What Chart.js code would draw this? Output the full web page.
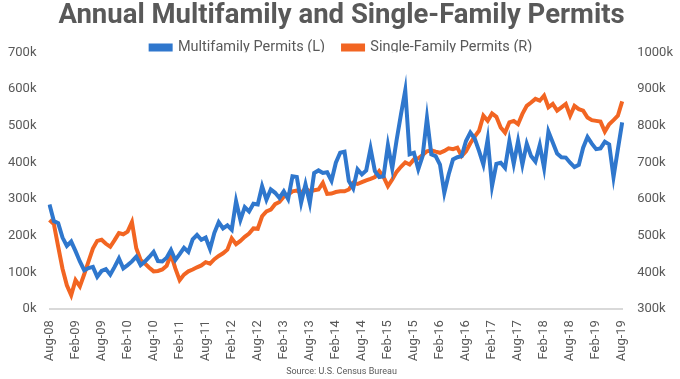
<!DOCTYPE html>
<html>
<head>
<meta charset="utf-8">
<script src="https://cdn.jsdelivr.net/npm/chart.js@4"></script>
<style>
  html, body { margin: 0; padding: 0; background: #fff; }
  #wrap { width: 680px; height: 379px; position: relative; }
</style>
</head>
<body>
<div id="wrap"><canvas id="permitsChart"></canvas></div>
<script>
// Meses abreviados y rango de fechas (Aug-08 .. Aug-19)
const monthNames = ['Jan', 'Feb', 'Mar', 'Apr', 'May', 'Jun', 'Jul', 'Aug', 'Sep', 'Oct', 'Nov', 'Dec'];
const startYear = 2008;
const startMonth = 7; // Aug

// Multifamily permits, annualized (thousands) - eje izquierdo
const multifamily = [
  285, 240, 234, 195, 172, 184, 158, 130, 106, 112, 115, 88,
  104, 109, 94, 115, 138, 111, 120, 130, 143, 120, 130, 142,
  156, 131, 130, 140, 161, 134, 150, 167, 156, 190, 202, 189,
  195, 164, 208, 237, 220, 228, 216, 294, 243, 278, 266, 287,
  285, 335, 298, 326, 317, 303, 321, 300, 362, 360, 290, 340,
  289, 371, 378, 371, 373, 350, 399, 426, 429, 349, 329, 381,
  367, 378, 438, 376, 360, 362, 447, 383, 460, 530, 596, 422,
  426, 381, 417, 521, 422, 417, 394, 317, 367, 408, 414, 417,
  458, 481, 465, 431, 394, 463, 335, 396, 399, 385, 458, 396,
  458, 394, 451, 417, 402, 447, 385, 484, 454, 424, 414, 413,
  399, 387, 393, 440, 469, 451, 436, 438, 456, 449, 360, 435,
  509
];

// Single-family permits, annualized (thousands) - eje derecho
const singleFamily = [
  543, 532, 470, 410, 365, 338, 379, 362, 395, 430, 465, 486,
  489, 478, 470, 488, 507, 504, 511, 537, 466, 434, 424, 413,
  403, 404, 408, 418, 449, 411, 379, 394, 403, 408, 414, 419,
  428, 424, 436, 445, 452, 462, 493, 477, 486, 497, 506, 520,
  519, 553, 566, 571, 586, 592, 606, 612, 621, 623, 617, 629,
  621, 624, 626, 644, 614, 615, 619, 621, 621, 626, 644, 641,
  646, 651, 655, 660, 676, 660, 635, 653, 674, 688, 700, 694,
  708, 711, 720, 730, 733, 729, 726, 731, 738, 736, 740, 717,
  730, 752, 770, 786, 827, 813, 833, 824, 795, 781, 809, 813,
  804, 832, 854, 863, 873, 868, 882, 850, 859, 841, 850, 859,
  827, 854, 845, 841, 822, 815, 813, 811, 784, 804, 815, 827,
  866
];

const labels = multifamily.map((_, i) => {
  const m = (startMonth + i) % 12;
  const y = startYear + Math.floor((startMonth + i) / 12);
  return monthNames[m] + '-' + String(y % 100).padStart(2, '0');
});

const textColor = '#595959';
const blue = '#2F77CD';
const orange = '#F26522';

const ctx = document.getElementById('permitsChart').getContext('2d');
new Chart(ctx, {
  type: 'line',
  data: {
    labels: labels,
    datasets: [{
      label: 'Multifamily Permits (L)',
      data: multifamily,
      borderColor: blue,
      backgroundColor: blue,
      borderWidth: 4,
      pointRadius: 0,
      tension: 0,
      yAxisID: 'yL'
    }, {
      label: 'Single-Family Permits (R)',
      data: singleFamily,
      borderColor: orange,
      backgroundColor: orange,
      borderWidth: 4,
      pointRadius: 0,
      tension: 0,
      yAxisID: 'yR'
    }]
  },
  options: {
    responsive: true,
    maintainAspectRatio: false,
    animation: false,
    layout: { padding: { left: 3, right: 0, top: 0, bottom: 2 } },
    plugins: {
      title: {
        display: true,
        text: 'Annual Multifamily and Single-Family Permits',
        color: textColor,
        font: { family: 'Roboto', size: 27.5, weight: 'bold', lineHeight: 1.1 },
        padding: { top: 1, bottom: -9 }
      },
      subtitle: {
        display: true,
        position: 'bottom',
        text: 'Source: U.S. Census Bureau',
        color: textColor,
        font: { family: 'Roboto', size: 9 },
        padding: { top: 2, bottom: 0 }
      },
      legend: {
        position: 'top',
        maxHeight: 30,
        labels: {
          color: textColor,
          font: { family: 'Roboto', size: 14.5 },
          boxWidth: 20,
          boxHeight: 4,
          padding: 18
        }
      },
      tooltip: { enabled: false }
    },
    scales: {
      x: {
        grid: { display: false },
        border: { display: true, color: '#d9d9d9', width: 2 },
        ticks: {
          color: textColor,
          font: { family: 'Roboto', size: 13 },
          autoSkip: false,
          maxRotation: 90,
          minRotation: 90,
          callback: function (val, idx) { return idx % 6 === 0 ? this.getLabelForValue(val) : null; }
        }
      },
      yL: {
        position: 'left',
        min: 0,
        max: 700,
        grid: { display: false },
        border: { display: false },
        ticks: {
          stepSize: 100,
          padding: 5,
          color: textColor,
          font: { family: 'Roboto', size: 13 },
          callback: v => v + 'k'
        }
      },
      yR: {
        position: 'right',
        min: 300,
        max: 1000,
        grid: { display: false },
        border: { display: false },
        ticks: {
          stepSize: 100,
          padding: 7,
          color: textColor,
          font: { family: 'Roboto', size: 13 },
          callback: v => v + 'k'
        }
      }
    }
  }
});
</script>
</body>
</html>
